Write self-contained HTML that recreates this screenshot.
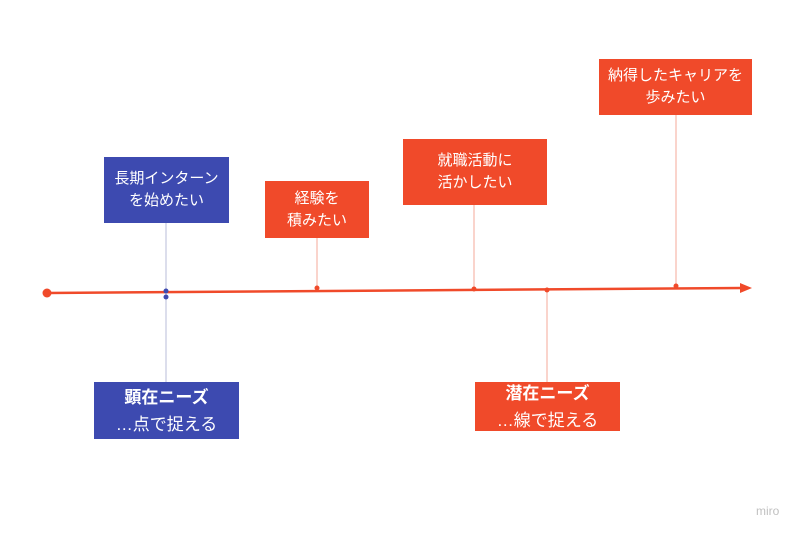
<!DOCTYPE html>
<html><head><meta charset="utf-8"><style>
body{margin:0;width:800px;height:533px;background:#fff;position:relative;overflow:hidden;font-family:"Liberation Sans","Noto Sans CJK JP",sans-serif}
.b{position:absolute;color:#fff;text-align:center;display:flex;flex-direction:column;justify-content:center;font-size:15px;line-height:22px}
.o{background:#f04a2a}.u{background:#3d4ab0}
.big{font-size:17px;line-height:27px}
</style></head><body>
<svg width="800" height="533" style="position:absolute;left:0;top:0">
<g stroke-width="1">
<line x1="166" y1="223" x2="166" y2="382" stroke="#b8bcd8"/>
<line x1="317" y1="238" x2="317" y2="288" stroke="#f4a898"/>
<line x1="474" y1="205" x2="474" y2="289" stroke="#f4a898"/>
<line x1="676" y1="115" x2="676" y2="286" stroke="#f4a898"/>
<line x1="547" y1="290" x2="547" y2="382" stroke="#f4a898"/>
</g>
<line x1="47" y1="293" x2="742" y2="288" stroke="#f04a2a" stroke-width="2.5"/>
<polygon points="740,283 752,288 740,293" fill="#f04a2a"/>
<circle cx="47" cy="293" r="4.5" fill="#f04a2a"/>
<circle cx="166" cy="291" r="2.5" fill="#3d4ab0"/>
<circle cx="166" cy="297" r="2.5" fill="#3d4ab0"/>
<circle cx="317" cy="288" r="2.5" fill="#f04a2a"/>
<circle cx="474" cy="289" r="2.5" fill="#f04a2a"/>
<circle cx="547" cy="290" r="2.5" fill="#f04a2a"/>
<circle cx="676" cy="286" r="2.5" fill="#f04a2a"/>
<text x="756" y="515" font-size="12" fill="#c0c0c0" font-family="Liberation Sans, sans-serif">miro</text>
</svg>
<div class="b u" style="left:104px;top:157px;width:125px;height:66px">長期インターン<br>を始めたい</div>
<div class="b o" style="left:265px;top:181px;width:104px;height:57px">経験を<br>積みたい</div>
<div class="b o" style="left:403px;top:139px;width:144px;height:66px">就職活動に<br>活かしたい</div>
<div class="b o" style="left:599px;top:59px;width:153px;height:56px">納得したキャリアを<br>歩みたい</div>
<div class="b u big" style="left:94px;top:382px;width:145px;height:57px"><b>顕在ニーズ</b>…点で捉える</div>
<div class="b o big" style="left:475px;top:382px;width:145px;height:49px"><b>潜在ニーズ</b>…線で捉える</div>
</body></html>
